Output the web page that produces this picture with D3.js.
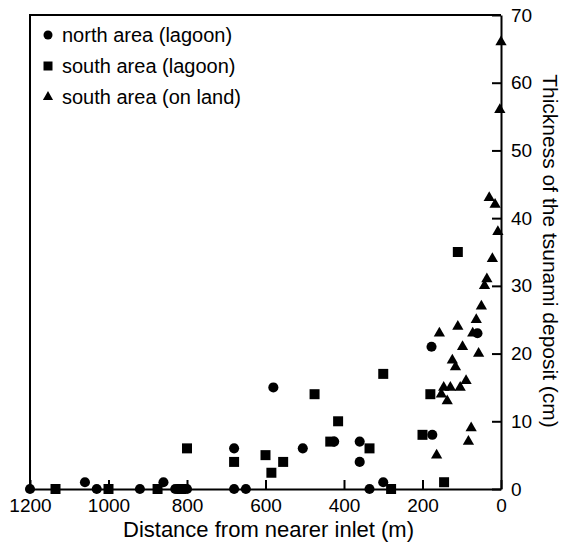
<!DOCTYPE html>
<html lang="en">
  <head>
    <meta charset="utf-8">
    <title>Tsunami deposit thickness</title>
    <script src="https://cdn.jsdelivr.net/npm/d3@7"></script>
    <style>
      body { margin: 0; background: #fff; }
      svg { display: block; font-family: "Liberation Sans", Arial, Helvetica, sans-serif; }
    </style>
  </head>
  <body>
    <script>
     // [distance from nearer inlet (m), thickness (cm)]
     let northArea = [[1200, 0], [1060, 1], [1030, 0], [920, 0], [860, 1], [830, 0], [800, 0],
                      [680, 6], [680, 0], [650, 0], [580, 15], [505, 6], [425, 7], [360, 7],
                      [360, 4], [335, 0], [300, 1], [175, 8], [177, 21], [60, 23]];
     let southLagoon = [[1135, 0], [1000, 0], [875, 0], [815, 0], [800, 6], [680, 4], [600, 5],
                        [585, 2.4], [555, 4], [475, 14], [435, 7], [415, 10], [335, 6], [300, 17],
                        [280, 0], [200, 8], [180, 14], [145, 1], [110, 35]];
     let southLand = [[0, 66], [3, 56], [30, 43], [15, 42], [8, 38], [22, 34], [36, 31], [42, 30],
                      [50, 27], [63, 25], [110, 24], [157, 23], [72, 23], [98, 21], [57, 20],
                      [124, 19], [116, 18], [89, 16], [104, 15], [146, 15], [129, 15], [152, 14],
                      [137, 13], [76, 9], [83, 7], [164, 5]];
     let legendLabels = ["north area (lagoon)", "south area (lagoon)", "south area (on land)"];
     let xTicks = [1200, 1000, 800, 600, 400, 200, 0];
     let yTicks = [0, 10, 20, 30, 40, 50, 60, 70];

     let w = 563, h = 545;
     let margin = {top: 15, right: 62, bottom: 56, left: 30};

     let svg = d3.select("body").append("svg").attr("width", w).attr("height", h);

     let xScale = d3.scaleLinear().domain([1200, 0]).range([margin.left, w - margin.right]);
     let yScale = d3.scaleLinear().domain([0, 70]).range([h - margin.bottom, margin.top]);

     // frame: top and left lines (bottom/right come from the axes)
     svg.append("path")
        .attr("d", `M${xScale(0)},${yScale(70)}H${xScale(1200)}V${yScale(0)}`)
        .attr("fill", "none").attr("stroke", "#000").attr("stroke-width", 2);

     let xAxis = svg.append("g")
                    .attr("transform", `translate(0,${yScale(0)})`)
                    .call(d3.axisBottom(xScale).tickValues(xTicks).tickFormat(d3.format("d"))
                            .tickSizeInner(-9).tickSizeOuter(0).tickPadding(10));
     let yAxis = svg.append("g")
                    .attr("transform", `translate(${xScale(0)},0)`)
                    .call(d3.axisRight(yScale).tickValues(yTicks).tickFormat(d3.format("d"))
                            .tickSizeInner(-9).tickSizeOuter(0).tickPadding(10));

     [xAxis, yAxis].forEach(g => {
       g.selectAll("path, line").attr("stroke", "#000").attr("stroke-width", 2);
       g.selectAll("text").attr("font-size", "19px").attr("fill", "#000")
        .attr("font-family", "Liberation Sans, Arial, sans-serif");
     });

     // axis titles
     svg.append("text")
        .attr("x", (xScale(1200) + xScale(0)) / 2 + 3)
        .attr("y", 537)
        .attr("text-anchor", "middle")
        .attr("font-size", "22px")
        .text("Distance from nearer inlet (m)");
     svg.append("text")
        .attr("transform", "translate(543,251) rotate(90)")
        .attr("text-anchor", "middle")
        .attr("font-size", "21px")
        .text("Thickness of the tsunami deposit (cm)");

     // points
     let series = [
       {data: northArea, type: d3.symbolCircle, size: 80},
       {data: southLagoon, type: d3.symbolSquare, size: 100},
       {data: southLand, type: d3.symbolTriangle, size: 55}
     ];
     series.forEach(s => {
       svg.append("g").selectAll("path")
          .data(s.data)
          .enter()
          .append("path")
          .attr("d", d3.symbol().type(s.type).size(s.size))
          .attr("transform", d => `translate(${xScale(d[0])},${yScale(d[1])})`)
          .attr("fill", "#000");
     });

     // legend
     let legend = svg.append("g");
     let legendSizes = [64, 81, 45];
     legend.selectAll("path")
           .data(series)
           .enter()
           .append("path")
           .attr("d", (d, i) => d3.symbol().type(d.type).size(legendSizes[i])())
           .attr("transform", (d, i) => `translate(48,${35 + i * 31})`)
           .attr("fill", "#000");
     legend.selectAll("text")
           .data(legendLabels)
           .enter()
           .append("text")
           .attr("x", 62)
           .attr("y", (d, i) => 42 + i * 31)
           .attr("font-size", "20px")
           .text(d => d);
    </script>
  </body>
</html>
